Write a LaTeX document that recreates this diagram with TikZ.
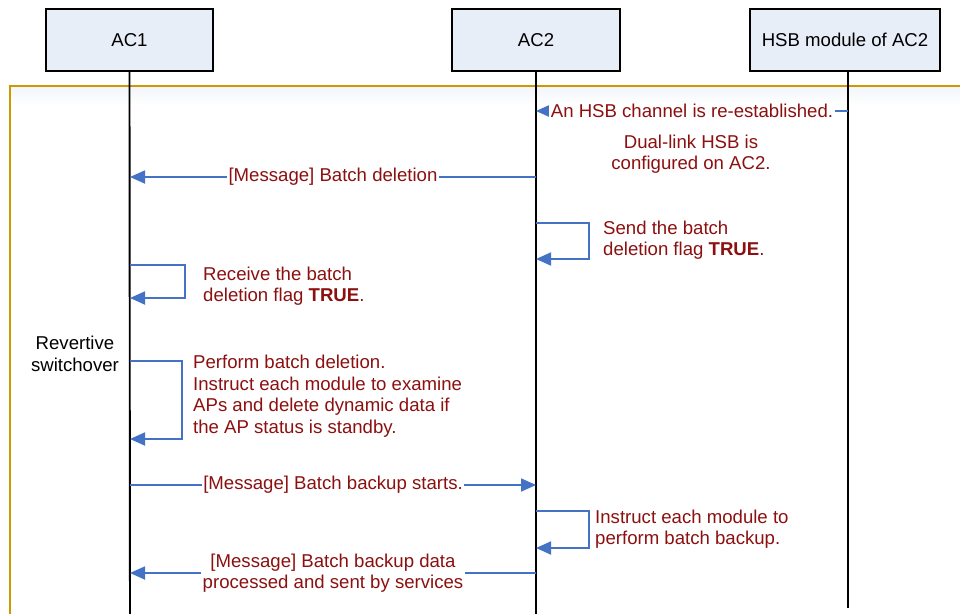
\documentclass[tikz,border=0pt]{standalone}
\usepackage{fontspec}
\setmainfont{Liberation Sans}
\usetikzlibrary{arrows.meta}
\definecolor{msgblue}{RGB}{68,114,196}
\definecolor{txtred}{RGB}{140,16,16}
\definecolor{framegold}{RGB}{204,153,0}
\definecolor{hdrfill}{RGB}{232,238,247}
\definecolor{topshade}{RGB}{242,245,250}
\begin{document}
\begin{tikzpicture}[x=1pt,y=-1pt,
 header/.style={draw=black,line width=1.9pt,fill=hdrfill,minimum height=62pt,inner sep=0pt,font=\fontsize{18.6}{22}\selectfont},
 lifeline/.style={draw=black,line width=1.9pt},
 msg/.style={draw=msgblue,line width=1.8pt,-{Triangle[length=15pt,width=13pt]}},
 lbl/.style={text=txtred,font=\fontsize{18.6}{21.5}\selectfont,align=center,inner sep=1.5pt,fill=white},
 note/.style={text=txtred,font=\fontsize{18.6}{21.5}\selectfont,align=left,inner sep=0pt,anchor=west},
 plain/.style={text=black,font=\fontsize{18.6}{22}\selectfont,align=center,inner sep=0pt},
]
\useasboundingbox (0,0) rectangle (960,613);
\clip (0,0) rectangle (960,613);
% frame
\draw[framegold,line width=1.6pt,fill=white] (10,86) rectangle (985,640);
\shade[top color=topshade,bottom color=white] (11,87) rectangle (984,105);
% headers
\node[header,minimum width=167pt] (ac1) at (129.5,40) {AC1};
\node[header,minimum width=168pt] (ac2) at (536,40) {AC2};
\node[header,minimum width=190pt] (hsb) at (845,40) {HSB module of AC2};
% lifeline ends
\coordinate (ac1end) at (130,640);
\coordinate (ac2end) at (536,640);
\coordinate (hsbtop) at (848,71);
\coordinate (hsbend) at (848,608);
\draw[lifeline] (ac1.south) -- (ac1end);
\draw[lifeline] (ac2.south) -- (ac2end);
\draw[lifeline] (hsbtop) -- (hsbend);
% message 1
\coordinate (m1s) at (848,111);
\coordinate (m1e) at (536,111);
\draw[msg] (m1s) -- node[lbl] (m1l) {An HSB channel is re-established.} (m1e);
\node[lbl,fill=none] (dual) at (691,154) {Dual-link HSB is\\configured on AC2.};
% message 2
\coordinate (m2s) at (536,177);
\coordinate (m2e) at (130,177);
\draw[msg] (m2s) -- node[lbl] (m2l) {[Message] Batch deletion} (m2e);
% self loop AC2 (send flag)
\coordinate (s1a) at (536,223);
\coordinate (s1b) at (589,259);
\coordinate (s1c) at (536,259);
\draw[msg] (s1a) -| (s1b) -- (s1c);
\node[note] (s1l) at (603,240) {Send the batch\\deletion flag \textbf{TRUE}.};
% self loop AC1 (receive flag)
\coordinate (s2a) at (130,265);
\coordinate (s2b) at (185,298);
\coordinate (s2c) at (130,298);
\draw[msg] (s2a) -| (s2b) -- (s2c);
\node[note] (s2l) at (203,286) {Receive the batch\\deletion flag \textbf{TRUE}.};
% revertive switchover
\node[plain] (rev) at (75,354) {Revertive\\switchover};
% self loop AC1 (batch deletion)
\coordinate (s3a) at (130,361);
\coordinate (s3b) at (182,439);
\coordinate (s3c) at (130,439);
\draw[msg] (s3a) -| (s3b) -- (s3c);
\node[note] (s3l) at (193,396) {Perform batch deletion.\\Instruct each module to examine\\APs and delete dynamic data if\\the AP status is standby.};
% message 6
\coordinate (m6s) at (130,485);
\coordinate (m6e) at (536,485);
\draw[msg] (m6s) -- node[lbl] (m6l) {[Message] Batch backup starts.} (m6e);
% self loop AC2 (batch backup)
\coordinate (s4a) at (536,511);
\coordinate (s4b) at (589,548);
\coordinate (s4c) at (536,548);
\draw[msg] (s4a) -| (s4b) -- (s4c);
\node[note] (s4l) at (595,529) {Instruct each module to\\perform batch backup.};
% message 8
\coordinate (m8s) at (536,573);
\coordinate (m8e) at (130,573);
\draw[msg] (m8s) -- node[lbl] (m8l) {[Message] Batch backup data\\processed and sent by services} (m8e);
\end{tikzpicture}
\end{document}
